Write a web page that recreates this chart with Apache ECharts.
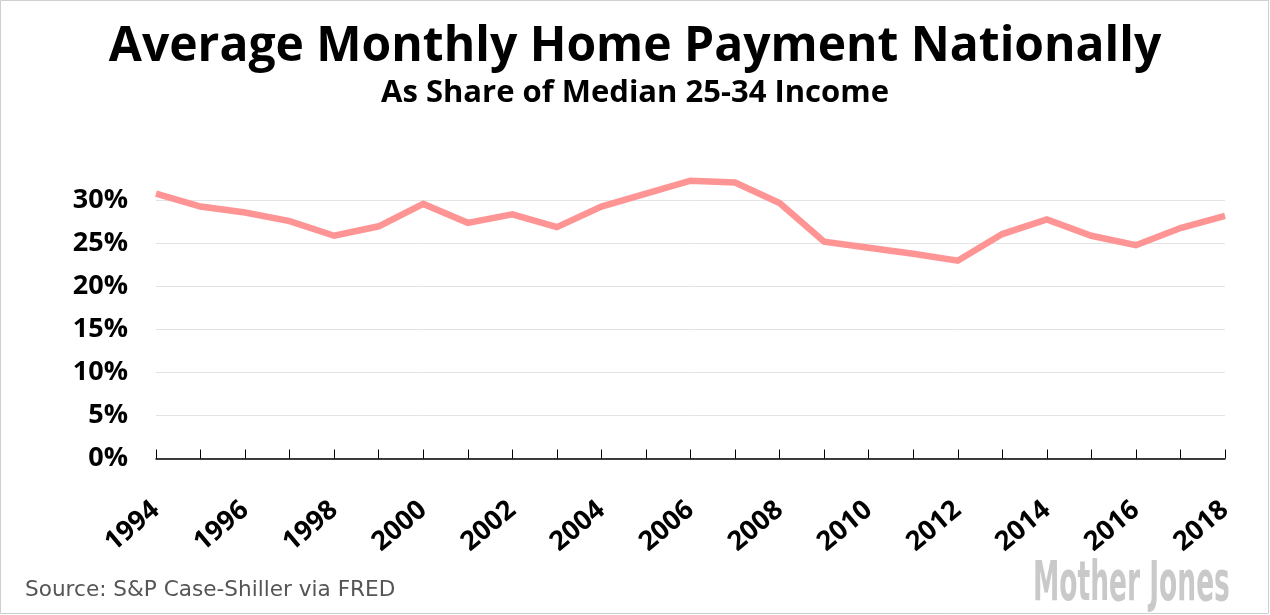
<!DOCTYPE html>
<html>
<head>
<meta charset="utf-8">
<script src="https://cdn.jsdelivr.net/npm/echarts@6/dist/echarts.min.js"></script>
<style>html,body{margin:0;padding:0;background:#fff}#c{width:1270px;height:615px}</style>
</head>
<body>
<div id="c"></div>
<script>
const years = ['1994','1995','1996','1997','1998','1999','2000','2001','2002','2003','2004','2005','2006','2007','2008','2009','2010','2011','2012','2013','2014','2015','2016','2017','2018'];
const paymentShare = [30.8, 29.3, 28.6, 27.6, 25.9, 27.0, 29.6, 27.4, 28.4, 26.9, 29.3, 30.8, 32.3, 32.1, 29.7, 25.2, 24.5, 23.8, 23.0, 26.1, 27.8, 25.9, 24.8, 26.8, 28.2];
const yTicks = [0, 5, 10, 15, 20, 25, 30];
const titleText = 'Average Monthly Home Payment Nationally';
const subtitleText = 'As Share of Median 25-34 Income';
const sourceText = 'Source: S&P Case-Shiller via FRED';
const logoText = 'Mother Jones';

const chart = echarts.init(document.getElementById('c'), null, {renderer: 'canvas'});
const FONT = '"Open Sans", Lato, sans-serif';
chart.setOption({
  backgroundColor: '#fff',
  animation: false,
  title: [
    {text: titleText, left: 'center', top: 18, textStyle: {fontFamily: FONT, fontWeight: 'bold', fontSize: 48, color: '#000'}},
    {text: subtitleText, left: 'center', top: 73, textStyle: {fontFamily: FONT, fontWeight: 'bold', fontSize: 31, color: '#000'}}
  ],
  grid: {left: 156, right: 45, top: 157.5, bottom: 156.5, containLabel: false},
  xAxis: {
    type: 'category',
    data: years,
    boundaryGap: false,
    axisLine: {lineStyle: {color: '#000', width: 1.5}},
    axisTick: {show: true, inside: true, length: 9, interval: 0, lineStyle: {color: '#000', width: 1}},
    axisLabel: {interval: 1, rotate: 40, margin: 48, fontFamily: FONT, fontWeight: 'bold', fontSize: 27, color: '#000'},
    splitLine: {show: false}
  },
  yAxis: {
    type: 'value',
    min: 0, max: 35, interval: 5,
    axisLine: {show: false},
    axisTick: {show: false},
    axisLabel: {
      margin: 28, fontFamily: FONT, fontWeight: 'bold', fontSize: 27, color: '#000',
      formatter: v => yTicks.includes(v) ? v + '%' : ''
    },
    splitLine: {show: true, lineStyle: {color: ['#e3e3e3','#e3e3e3','#e3e3e3','#e3e3e3','#e3e3e3','#e3e3e3','#e3e3e3','rgba(0,0,0,0)'], width: 1}}
  },
  series: [{
    type: 'line',
    data: paymentShare,
    symbol: 'none',
    lineStyle: {color: '#ff9494', width: 6.5, join: 'miter'},
    clip: false
  }],
  graphic: [
    {type: 'rect', shape: {x: 0.5, y: 0.5, width: 1268, height: 613}, style: {fill: 'none', stroke: '#cfcfcf', lineWidth: 1}, silent: true},
    {type: 'text', left: 25, top: 579, style: {text: sourceText, font: '21.6px "DejaVu Sans", Verdana, sans-serif', fill: '#555'}},
    {type: 'text', x: 1033, y: 558, scaleX: 0.535, style: {text: logoText, font: 'bold 55px "DejaVu Sans Condensed", "Liberation Sans Narrow", sans-serif', fill: '#c9c9c9'}}
  ]
});
</script>
</body>
</html>
